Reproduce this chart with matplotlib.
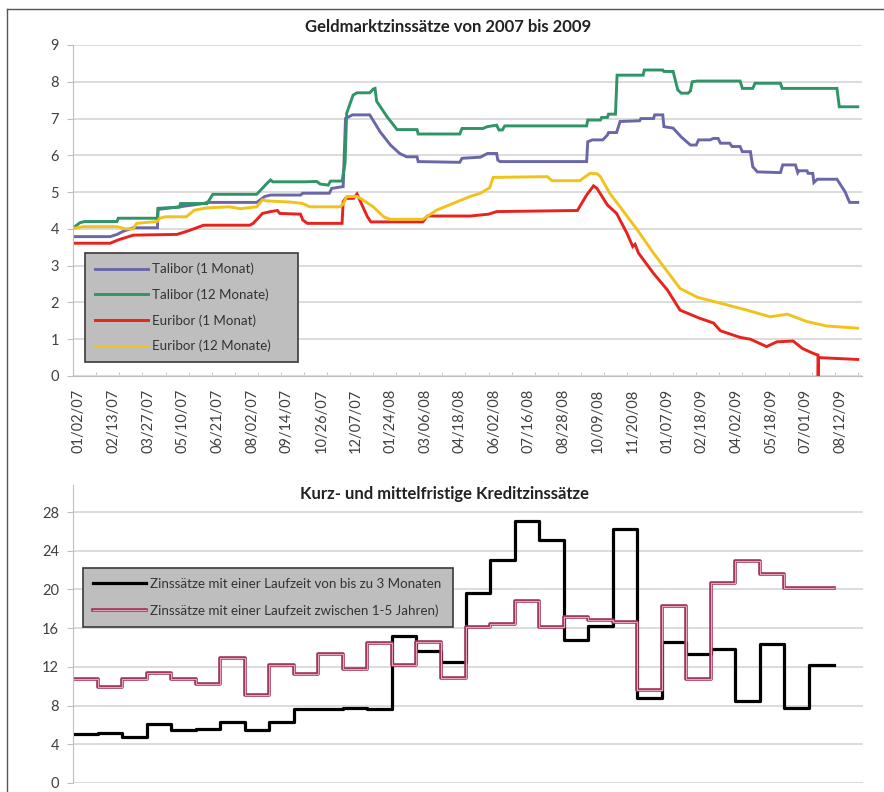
import numpy as np
import matplotlib.pyplot as plt
from matplotlib import patheffects as pe
from matplotlib.lines import Line2D

plt.rcParams['font.family'] = ['Lato', 'DejaVu Sans']

# Geldmarkt: (Handelstag-Index ab 01/02/07, Zinssatz in %)
talibor_1m = [(-5, 3.79), (27, 3.79), (33, 3.85), (38, 3.93), (47, 4.03), (68, 4.03), (68.5, 4.53),
              (87, 4.6), (108, 4.69), (111, 4.72), (154, 4.72), (161, 4.88), (166, 4.92), (192, 4.92),
              (194, 4.97), (217, 4.97), (219, 5.1), (229, 5.15), (231, 7.0), (237, 7.1), (252, 7.1),
              (261, 6.64), (270, 6.28), (278, 6.05), (284, 5.96), (293, 5.96), (294, 5.83), (330, 5.81),
              (332, 5.92), (348, 5.95), (354, 6.05), (362, 6.05), (363, 5.87), (365, 5.83), (440, 5.83),
              (441, 6.37), (445, 6.42), (454, 6.42), (458, 6.55), (459, 6.62), (466, 6.62), (469, 6.92),
              (486, 6.94), (487, 7.0), (498, 7.0), (499, 7.1), (506, 7.1), (507, 6.78), (515, 6.74),
              (522, 6.5), (530, 6.28), (535, 6.28), (537, 6.42), (547, 6.42), (550, 6.46), (554, 6.46),
              (556, 6.33), (564, 6.33), (566, 6.24), (573, 6.24), (575, 6.1), (582, 6.1), (584, 5.69),
              (588, 5.55), (608, 5.53), (610, 5.74), (621, 5.74), (623, 5.53), (624, 5.58), (631, 5.58),
              (632, 5.51), (636, 5.51), (637, 5.26), (640, 5.35), (657, 5.35), (664, 5.01), (667, 4.79),
              (668, 4.72), (675, 4.72)]
talibor_12m = [(-5, 4.03), (1, 4.17), (5, 4.2), (33, 4.2), (34, 4.29), (68, 4.29), (68.5, 4.56),
               (87, 4.59), (88, 4.69), (111, 4.69), (116, 4.94), (154, 4.94), (163, 5.24), (166, 5.33),
               (168, 5.28), (196, 5.28), (206, 5.29), (209, 5.22), (216, 5.19), (218, 5.3), (228, 5.3),
               (230.6, 5.78), (232, 7.14), (235, 7.41), (237.6, 7.64), (241, 7.7), (252, 7.7), (255, 7.8),
               (256.6, 7.82), (258, 7.47), (267, 7.05), (275.7, 6.7), (293, 6.7), (294, 6.58), (330, 6.58),
               (332, 6.73), (350, 6.73), (354, 6.78), (362, 6.82), (364, 6.69), (367, 6.69), (369, 6.8),
               (440, 6.8), (441, 6.96), (452, 6.96), (453, 7.03), (458, 7.03), (459, 7.12), (465, 7.12),
               (466.4, 8.18), (489, 8.18), (490, 8.32), (506, 8.32), (507, 8.28), (515, 8.28), (519, 7.78),
               (522, 7.69), (528, 7.69), (530, 7.75), (531.5, 8.0), (536, 8.02), (573, 8.02), (575, 7.82),
               (584, 7.82), (586, 7.96), (608, 7.96), (609.5, 7.82), (657, 7.82), (659, 7.32), (675, 7.32)]
euribor_1m = [(-5, 3.61), (27, 3.61), (34, 3.7), (47, 3.83), (85, 3.85), (95, 3.95), (108, 4.1),
              (148, 4.1), (151, 4.15), (159, 4.42), (166, 4.47), (172, 4.5), (174, 4.42), (192, 4.4),
              (194, 4.24), (198, 4.15), (228, 4.15), (229, 4.74), (231, 4.83), (238, 4.83), (241, 4.95),
              (244, 4.74), (250, 4.33), (253, 4.19), (298, 4.19), (302, 4.35), (339, 4.35), (355, 4.4),
              (362, 4.47), (432, 4.5), (440, 4.92), (446, 5.17), (449, 5.1), (458, 4.65), (466, 4.42),
              (475, 3.88), (480, 3.52), (482, 3.58), (485, 3.34), (498, 2.79), (510, 2.34), (521, 1.79),
              (538, 1.57), (550, 1.44), (556, 1.23), (573, 1.05), (582, 1.0), (596, 0.8), (605, 0.93),
              (619, 0.95), (627, 0.75), (636, 0.62), (640.5, 0.57), (640.7, 0.0), (641, 0.5), (675, 0.45)]
euribor_12m = [(-5, 4.01), (3.5, 4.06), (33, 4.06), (40, 4.0), (47, 4.0), (50, 4.15), (67.6, 4.2),
               (70, 4.29), (75, 4.33), (93, 4.33), (100, 4.51), (111, 4.57), (130, 4.6), (140, 4.55),
               (154, 4.6), (159, 4.79), (163, 4.76), (183, 4.73), (194, 4.69), (200, 4.6), (226, 4.6),
               (229, 4.67), (232, 4.88), (241, 4.88), (246, 4.79), (255, 4.6), (264, 4.33), (270, 4.26),
               (298, 4.26), (310, 4.51), (324, 4.69), (339, 4.88), (348, 4.97), (356, 5.12), (359, 5.4),
               (406, 5.42), (410, 5.31), (434, 5.31), (443, 5.51), (449, 5.5), (452, 5.42), (460, 4.97),
               (469, 4.6), (484, 3.97), (498, 3.34), (521, 2.38), (536, 2.14), (556, 1.98), (579, 1.79),
               (599, 1.61), (614, 1.68), (631, 1.48), (648, 1.36), (675, 1.3)]

date_labels = ['01/02/07', '02/13/07', '03/27/07', '05/10/07', '06/21/07', '08/02/07', '09/14/07',
               '10/26/07', '12/07/07', '01/24/08', '03/06/08', '04/18/08', '06/02/08', '07/16/08',
               '08/28/08', '10/09/08', '11/20/08', '01/07/09', '02/18/09', '04/02/09', '05/18/09',
               '07/01/09', '08/12/09']

# Kreditzinssaetze, monatlich 01/2007 - 07/2009
kredit_3m = [5.05, 5.15, 4.75, 6.05, 5.5, 5.6, 6.35, 5.5, 6.3, 7.6, 7.65, 7.8, 7.65, 15.2, 13.6, 12.5,
             19.6, 23.1, 27.1, 25.1, 14.8, 16.25, 26.25, 8.8, 14.6, 13.35, 13.8, 8.5, 14.35, 7.75, 12.2]
kredit_1_5j = [10.8, 9.9, 10.7, 11.4, 10.8, 10.2, 12.9, 9.1, 12.2, 11.3, 13.3, 11.8, 14.5, 12.2, 14.6,
               10.9, 16.1, 16.4, 18.8, 16.1, 17.2, 16.8, 16.6, 9.6, 18.3, 10.8, 20.7, 22.9, 21.6,
               20.15, 20.15]

txt = '#404040'
grid = '#D9D9D9'
axc = '#BFBFBF'

fig = plt.figure(figsize=(8.84, 7.92), dpi=100)

# outer frame
fig.add_artist(Line2D([7/884, 7/884], [0, 1-9/792], transform=fig.transFigure, color='#555555', lw=1))
fig.add_artist(Line2D([7/884, 1], [1-9/792, 1-9/792], transform=fig.transFigure, color='#555555', lw=1))

legend_style = dict(loc='upper left', mode='expand', borderaxespad=0, fontsize=9.6, frameon=True,
                    fancybox=False, facecolor='#BEBEBE', edgecolor='#3A3A3A', framealpha=1,
                    handlelength=4.0, handletextpad=0.25, borderpad=0.75)

# ---- oberes Diagramm
ax1 = fig.add_axes([73/884, 1-376/792, 789/884, 331/792])
series = [(talibor_1m, 'Talibor (1 Monat)', '#6A67A8'),
          (talibor_12m, 'Talibor (12 Monate)', '#2F9466'),
          (euribor_1m, 'Euribor (1 Monat)', '#E8221C'),
          (euribor_12m, 'Euribor (12 Monate)', '#F2C21C')]
for data, lab, col in series:
    t, v = zip(*data)
    ax1.plot(t, v, color=col, lw=2.1, label=lab, solid_joinstyle='miter')

ax1.set_xlim(-5.2, 678.7)
ax1.set_ylim(0, 9)
ax1.set_yticks(range(10))
ax1.set_xticks(np.arange(len(date_labels)) * 30)
ax1.set_xticklabels(date_labels, rotation=90)
ax1.set_xticks(np.arange(-5, 679, 20), minor=True)
ax1.tick_params(axis='x', which='major', length=0, pad=9, labelsize=10.5, labelcolor=txt)
ax1.tick_params(axis='x', which='minor', length=3, direction='in', color=axc)
ax1.tick_params(axis='y', length=4, color=axc, labelsize=10.5, labelcolor=txt, pad=6)
ax1.grid(axis='y', color=grid, lw=1.3)
ax1.set_axisbelow(True)
for s in ['top', 'right']:
    ax1.spines[s].set_visible(False)
for s in ['left', 'bottom']:
    ax1.spines[s].set_color(axc)
leg1 = ax1.legend(bbox_to_anchor=(0.0152, 0.372, 0.27, 0), labelspacing=0.98, **legend_style)
leg1.get_frame().set_linewidth(1.2)
for tx in leg1.get_texts():
    tx.set_color('#333333')
fig.text(448/884, 1-27/792, 'Geldmarktzinssätze von 2007 bis 2009', ha='center', va='center',
         fontsize=12, fontweight='bold', color='#222222')

# ---- unteres Diagramm
ax2 = fig.add_axes([73/884, 1-783/792, 790/884, 298/792])
edges = np.arange(len(kredit_3m) + 1)
ax2.plot(edges, kredit_3m + kredit_3m[-1:], drawstyle='steps-post', color='black', lw=2.3,
         label='Zinssätze mit einer Laufzeit von bis zu 3 Monaten')
ax2.plot(edges, kredit_1_5j + kredit_1_5j[-1:], drawstyle='steps-post', color='#E9A3B8', lw=0.8,
         path_effects=[pe.Stroke(linewidth=2.6, foreground='#9C3459'), pe.Normal()],
         label='Zinssätze mit einer Laufzeit zwischen 1-5 Jahren)')
ax2.set_xlim(0, 32.2)
ax2.set_ylim(0, 30.8)
ax2.set_yticks(range(0, 29, 4))
ax2.set_xticks([])
ax2.tick_params(axis='y', length=4, color=axc, labelsize=10.5, labelcolor=txt, pad=6)
ax2.grid(axis='y', color=grid, lw=1.3)
ax2.set_axisbelow(True)
for s in ['top', 'right', 'bottom']:
    ax2.spines[s].set_visible(False)
ax2.spines['left'].set_color(axc)
leg2 = ax2.legend(bbox_to_anchor=(0.0127, 0.7215, 0.468, 0), labelspacing=1.05, **legend_style)
leg2.get_frame().set_linewidth(1.2)
for tx in leg2.get_texts():
    tx.set_color('#333333')
fig.text(445/884, 1-494/792, 'Kurz- und mittelfristige Kreditzinssätze', ha='center', va='center',
         fontsize=12, fontweight='bold', color='#222222')

fig.savefig('out.png', dpi=100)
